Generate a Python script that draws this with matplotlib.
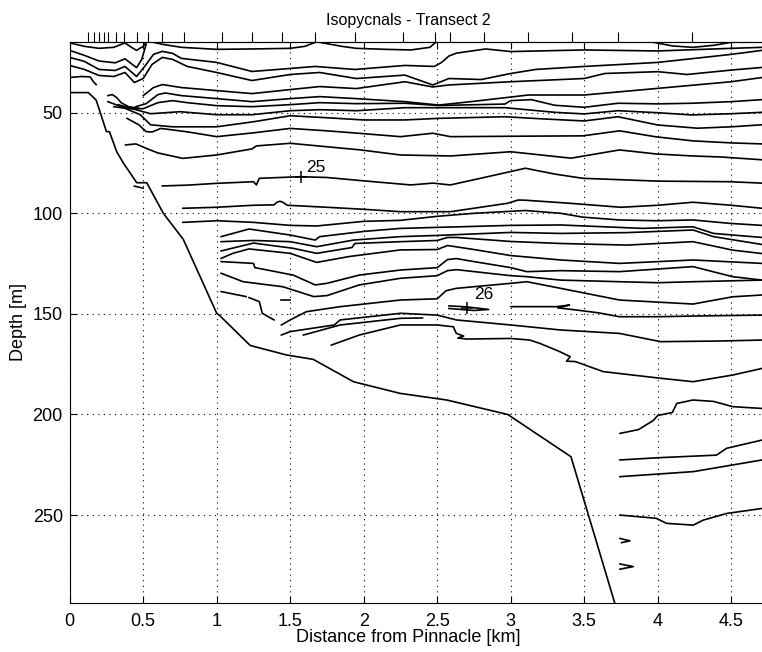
import numpy as np
import matplotlib.pyplot as plt

plt.rcParams['font.family'] = ['Liberation Sans', 'DejaVu Sans']

# CTD station positions (top axis ticks), km
stations_km = [0.127, 0.167, 0.201, 0.235, 0.258, 0.315, 0.372, 0.46, 0.531, 0.63, 0.78,
               1.034, 1.238, 1.442, 1.669, 1.941, 2.27, 2.485, 2.587, 2.815, 3.12, 3.415,
               3.732, 4.231]

# bottom profile
seafloor_km = [0, 0.127, 0.18, 0.25, 0.27, 0.32, 0.365, 0.456, 0.524, 0.637, 0.773, 1.0, 1.02,
               1.228, 1.474, 1.657, 1.93, 2.247, 2.565, 2.98, 3.41, 3.709, 3.72]
seafloor_m = [40, 40, 43.7, 59.4, 59.4, 69.4, 75, 84.8, 84.8, 100, 113, 149.7, 150.8,
              165.7, 170.4, 172.6, 183.7, 189.5, 192.8, 200, 221, 294, 297]

# isopycnal contour pieces (distance km, depth m)
iso01_x = [0, 0.1, 0.2, 0.3, 0.376, 0.42, 0.455, 0.5, 0.52]
iso01_d = [15.3, 17, 18, 17.5, 15.3, 17.5, 19, 17, 15]
iso02_x = [0.57, 0.63, 0.76, 1.0, 1.25, 1.5, 1.6, 1.67]
iso02_d = [15, 16, 17.5, 18.5, 18.3, 18, 17, 15]
iso03_x = [1.7, 1.85, 1.95, 2.15, 2.32, 2.45, 2.49]
iso03_d = [15, 17, 18, 18.5, 18.8, 17.5, 15]
iso04_x = [3.97, 4.1, 4.24, 4.38, 4.5]
iso04_d = [15, 16.8, 17.5, 16.5, 15]
iso05_x = [0, 0.1, 0.2, 0.31, 0.376, 0.455, 0.49, 0.52]
iso05_d = [19, 21.5, 24.3, 25.2, 23.2, 27.6, 23.5, 16]
iso06_x = [0, 0.1, 0.2, 0.31, 0.376, 0.455, 0.51, 0.57, 0.63, 0.7, 0.76, 1.0, 1.24, 1.5, 1.67,
           1.94, 2.28, 2.48, 2.53, 2.58, 2.63, 2.83, 3.0, 3.5, 4.0, 4.5, 4.71]
iso06_d = [22.5, 24.5, 28.5, 29, 27, 32, 27, 21, 19.5, 20.5, 23, 25, 29.5, 28, 27,
           28.5, 26.5, 27, 25, 21.8, 20.4, 18.3, 19.6, 18.8, 19.3, 18, 17.5]
iso07_x = [0, 0.1, 0.2, 0.3, 0.376, 0.44, 0.5, 0.56, 0.63, 0.7, 0.8, 1.0, 1.24, 1.5, 1.7,
           1.95, 2.28, 2.47, 2.58, 2.8, 3.0, 3.17, 3.5, 4.0, 4.5, 4.71]
iso07_d = [26.5, 28.5, 31.5, 32, 30, 35, 33, 26, 22.5, 23.5, 27, 30, 34, 31, 30,
           33, 31.3, 36.2, 33, 33.5, 30.5, 28.5, 27, 25, 21, 19]
iso08_x = [0.5, 0.57, 0.63, 0.76, 1.0, 1.24, 1.5, 1.7, 1.95, 2.28, 2.47, 2.58, 3.0, 3.5, 3.64,
           4.0, 4.2, 4.5, 4.71]
iso08_d = [41.5, 37.5, 36, 37.5, 39, 40.5, 38.5, 37, 38, 34.6, 37.2, 36.2, 34.6, 33, 30.5,
           29.6, 31, 28.8, 27.5]
iso09_x = [0.45, 0.52, 0.6, 0.65, 0.76, 1.0, 1.24, 1.5, 1.7, 1.95, 2.28, 2.51, 2.73, 3.12, 3.5,
           4.0, 4.5, 4.71]
iso09_d = [47, 45.5, 41, 40.2, 41.5, 43, 44.5, 43, 42, 43, 44.5, 46.2, 44.5, 41.2, 41.2,
           37.9, 34.6, 32.5]
iso10_x = [0.3, 0.4, 0.5, 0.6, 0.7, 0.8, 1.0, 1.24, 1.5, 1.7, 1.95, 2.28, 2.51, 2.96, 3.0,
           3.14, 3.3, 3.5, 3.73, 4.0, 4.23, 4.5, 4.71]
iso10_d = [47, 48, 48, 45, 44, 45, 46.5, 47, 46, 45, 45.5, 45.3, 46.4, 45.7, 44,
           43.5, 46.3, 47.3, 45.3, 45.6, 45.3, 44.5, 43.5]
iso11_x = [0.33, 0.45, 0.55, 0.65, 0.75, 1.0, 1.24, 1.5, 1.7, 1.95, 2.28, 2.55, 2.96, 3.3,
           3.5, 3.73, 4.0, 4.23, 4.5, 4.71]
iso11_d = [46, 48.5, 50.5, 50, 49.5, 51, 51, 49, 48.5, 49, 47.5, 47.5, 47.5, 49.8,
           50.6, 49, 50, 51.1, 50.5, 49.8]
iso12_x = [0.26, 0.35, 0.48, 0.55, 0.7, 1.0, 1.25, 1.5, 1.75, 2.0, 2.28, 2.51, 2.96, 3.2,
           3.5, 3.73, 4.0, 4.27, 4.5, 4.71]
iso12_d = [44.5, 47, 51, 56, 57, 57, 54.5, 51.5, 52.5, 53.6, 53.6, 52.8, 52, 53,
           54.1, 52, 56.1, 57.7, 57, 56]
iso13_x = [0.39, 0.47, 0.52, 0.56, 0.62, 0.8, 1.0, 1.25, 1.5, 1.75, 1.98, 2.25, 2.47, 2.59,
           3.0, 3.49, 3.74, 3.99, 4.24, 4.5, 4.71]
iso13_d = [52.8, 56, 59.4, 59.6, 57.8, 59.5, 61.9, 60, 57.8, 59, 60.3, 61.9, 60.2, 61.9,
           61.7, 61.5, 59, 62, 64, 65, 65.5]
iso14_x = [0.38, 0.45, 0.52, 0.6, 0.77, 1.0, 1.24, 1.27, 1.5, 1.98, 2.25, 2.59, 3.0, 3.41,
           3.74, 3.99, 4.24, 4.43, 4.71]
iso14_d = [66, 65.5, 67.7, 70, 72.7, 71, 68, 66.5, 65.2, 68.5, 71, 71.5, 69.4, 72.6,
           68.5, 70.5, 71.5, 72, 73.4]
iso25_x = [0.63, 0.8, 1.0, 1.25, 1.27, 1.29, 1.57, 1.75, 1.93, 2.1, 2.32, 2.47, 2.59, 2.8,
           3.1, 3.3, 3.49, 4.0, 4.49, 4.71]
iso25_d = [86.4, 86, 85.1, 84.3, 85.9, 82.6, 81.8, 82.2, 83.4, 84.5, 85.9, 85, 85.9, 82.5,
           77.6, 80.5, 82.6, 84, 84.3, 85]
iso15_x = [0.44, 0.5]
iso15_d = [86.5, 87.5]
iso16_x = [0.77, 1.0, 1.25, 1.39, 1.41, 1.43, 1.45, 1.48, 1.75, 2.0, 2.25, 2.59, 2.98, 3.05,
           3.1, 3.4, 3.75, 4.0, 4.24, 4.5, 4.71]
iso16_d = [97.5, 97, 96, 95.8, 94.5, 94, 94.5, 96, 97, 98, 99.2, 99.2, 95, 93.4,
           93.5, 95, 97, 96, 94.5, 96, 97.5]
iso17_x = [0.77, 1.0, 1.25, 1.5, 1.68, 2.0, 2.25, 2.5, 2.75, 3.1, 3.34, 3.49, 3.74, 3.99,
           4.24, 4.49, 4.71]
iso17_d = [104.5, 103.7, 104.5, 106, 106.3, 104, 103.5, 101.5, 100, 98.6, 100, 101.9, 103.3,
           103.7, 103.3, 105, 106]
iso18_x = [1.03, 1.22, 1.5, 1.67, 1.7, 2.0, 2.25, 2.5, 3.0, 3.34, 3.9, 4.24, 4.38, 4.71]
iso18_d = [111.6, 107.8, 110.8, 113.3, 111.6, 109, 107.5, 107, 106, 105.8, 107.5, 106.7, 110, 112]
iso19_x = [1.03, 1.25, 1.5, 1.68, 1.93, 2.25, 2.5, 3.0, 3.34, 3.79, 4.24, 4.38, 4.71]
iso19_d = [114.1, 113.5, 114.1, 116.6, 113.3, 111.6, 111, 109.5, 110, 109.6, 108.3, 111.6, 115.5]
iso20_x = [1.03, 1.25, 1.52, 1.68, 1.92, 1.94, 2.25, 2.5, 2.57, 2.63, 3.0, 3.34, 3.79, 4.24,
           4.51, 4.71]
iso20_d = [118.7, 114.8, 117.4, 119.9, 117, 115, 114.1, 113.5, 112, 112, 114, 115, 115.8, 114.1,
           118.3, 120]
iso21_x = [1.03, 1.11, 1.22, 1.5, 1.68, 1.9, 2.25, 2.5, 2.57, 2.75, 3.0, 3.34, 3.74, 4.24, 4.71]
iso21_d = [122.4, 119.9, 117.7, 119.9, 124.4, 121.5, 118.2, 118, 116, 118, 121, 123.2, 124.9,
           123.2, 124.9]
iso22_x = [1.03, 1.25, 1.26, 1.52, 1.67, 1.75, 1.97, 2.25, 2.5, 2.57, 2.63, 2.75, 3.0, 3.11,
           3.34, 3.74, 4.24, 4.51, 4.71]
iso22_d = [124, 124.9, 127, 130.7, 135.6, 134.8, 130.7, 128.2, 127, 123, 122.5, 124, 127, 129,
           128.5, 129, 126.5, 131.5, 133.2]
iso23_x = [1.03, 1.18, 1.45, 1.66, 1.75, 1.97, 2.25, 2.5, 2.57, 2.63, 3.0, 3.11, 3.34, 3.74,
           4.0, 4.24, 4.71]
iso23_d = [129.8, 134, 136.5, 141.4, 140.9, 135.6, 132.3, 131, 128.5, 128, 131, 131.5, 133.2,
           134, 134.5, 134, 133.2]
iso24_x = [1.03, 1.2]
iso24_d = [138.9, 141.4]
iso24b_x = [1.22, 1.29, 1.31, 1.39]
iso24b_d = [141.9, 143.9, 149.7, 153]
iso26_x = [1.44, 1.5]
iso26_d = [143.1, 143.1]
iso27_x = [1.44, 1.5, 1.61, 1.84, 2.25, 2.5, 2.56, 2.63, 3.0, 3.11, 3.34, 3.74, 4.24, 4.51, 4.71]
iso27_d = [155.5, 153, 148.9, 146.4, 143.1, 142.5, 138.5, 137.3, 134.8, 134, 137.3, 143.1,
           145.1, 141.5, 140.6]
iso28_x = [2.58, 2.7, 2.85, 2.75, 2.58]
iso28_d = [146, 146.5, 147.8, 148.3, 147.3]
iso29_x = [3.0, 3.2, 3.31, 3.4, 3.32, 3.44, 3.6, 3.74, 4.0, 4.3, 4.71]
iso29_d = [146.4, 146.4, 146.4, 145.6, 147, 148, 149.5, 151.4, 151.4, 151, 150.6]
iso30_x = [1.44, 1.5, 1.8, 1.84, 2.25, 2.5, 2.63, 3.0, 3.34, 3.74, 4.02, 4.4, 4.71]
iso30_d = [160.5, 158.8, 155.5, 153, 149.7, 150.6, 153, 155.5, 158, 159.7, 163.8, 163.5, 163]
iso31_x = [1.59, 1.84, 2.25, 2.4]
iso31_d = [160.5, 155.5, 152.2, 152]
iso32_x = [1.78, 1.97, 2.25, 2.5, 2.61, 2.63, 2.68, 2.64, 2.7, 3.0, 3.13, 3.2, 3.335,
           3.405, 3.38, 3.44, 3.63, 4.02, 4.24, 4.51, 4.71]
iso32_d = [165.5, 160.5, 155.5, 155.5, 156.4, 159.7, 161, 162, 162.5, 162.2, 163, 164.7,
           168.8, 171.3, 173.5, 173.7, 178.7, 182, 183.7, 180.4, 177.1]
iso33_x = [3.743, 3.87, 3.925, 3.97, 4.0, 4.1, 4.13, 4.24, 4.38, 4.51, 4.71]
iso33_d = [209.4, 207.5, 205, 203, 200.5, 199, 194.5, 192.8, 193.5, 196.1, 197]
iso34_x = [3.743, 4.0, 4.4, 4.469, 4.71]
iso34_d = [222.6, 221.5, 220.2, 216.8, 212.7]
iso35_x = [3.743, 4.242, 4.71]
iso35_d = [230.9, 228.4, 222.6]
iso36_x = [3.743, 3.99, 4.06, 4.242, 4.31, 4.469, 4.71]
iso36_d = [250, 251.6, 254.1, 255, 252.5, 249.2, 246.7]
iso37_x = [3.743, 3.811, 3.754]
iso37_d = [261.6, 262.8, 263.7]
iso38_x = [3.743, 3.834, 3.743]
iso38_d = [274.3, 275.6, 276.9]
iso39_x = [0, 0.08, 0.14, 0.16, 0.18]
iso39_d = [32.5, 32, 32.2, 34.5, 36]
iso41_x = [0.26, 0.29, 0.32, 0.35, 0.4, 0.47]
iso41_d = [41.5, 41, 42.5, 45, 47, 47.8]

# contour labels
label_text = ['25', '26']
label_km = [1.61, 2.75]
label_m = [77.2, 140.3]
cross_km = [1.571, 2.702]
cross_m = [81.8, 147.3]

xticks = [0, 0.5, 1, 1.5, 2, 2.5, 3, 3.5, 4, 4.5]
xticklabels = ['0', '0.5', '1', '1.5', '2', '2.5', '3', '3.5', '4', '4.5']
yticks = [50, 100, 150, 200, 250]

pieces = [(iso01_x, iso01_d), (iso02_x, iso02_d), (iso03_x, iso03_d), (iso04_x, iso04_d),
          (iso05_x, iso05_d), (iso06_x, iso06_d), (iso07_x, iso07_d), (iso08_x, iso08_d),
          (iso09_x, iso09_d), (iso10_x, iso10_d), (iso11_x, iso11_d), (iso12_x, iso12_d),
          (iso13_x, iso13_d), (iso14_x, iso14_d), (iso25_x, iso25_d), (iso15_x, iso15_d),
          (iso16_x, iso16_d), (iso17_x, iso17_d), (iso18_x, iso18_d), (iso19_x, iso19_d),
          (iso20_x, iso20_d), (iso21_x, iso21_d), (iso22_x, iso22_d), (iso23_x, iso23_d),
          (iso24_x, iso24_d), (iso24b_x, iso24b_d), (iso26_x, iso26_d), (iso27_x, iso27_d),
          (iso28_x, iso28_d), (iso29_x, iso29_d), (iso30_x, iso30_d), (iso31_x, iso31_d),
          (iso32_x, iso32_d), (iso33_x, iso33_d), (iso34_x, iso34_d), (iso35_x, iso35_d),
          (iso36_x, iso36_d), (iso37_x, iso37_d), (iso38_x, iso38_d), (iso39_x, iso39_d),
          (iso41_x, iso41_d)]

fig = plt.figure(figsize=(7.62, 6.52), dpi=100)
ax = fig.add_axes([69.7/762, 49/652, 1 - 69.7/762, (603-41.7)/652])

for px, pd_ in pieces:
    ax.plot(px, pd_, color='k', lw=1.2)
ax.plot(seafloor_km, seafloor_m, color='k', lw=1.2)

ax.plot(cross_km, cross_m, 'k+', ms=9, mew=1.1, ls='none')
for t, x, y in zip(label_text, label_km, label_m):
    ax.text(x, y, t, fontsize=12.5, ha='left', va='center')

ax.set_xlim(0, (762-69.7)/147)
ax.set_ylim(293.7, 14.7)
ax.set_xticks(xticks)
ax.set_xticklabels(xticklabels)
ax.set_yticks(yticks)
ax.tick_params(direction='in', length=5, top=True, right=False, labelsize=13)
ax.tick_params(axis='x', pad=7)
ax.tick_params(axis='y', pad=5)
ax.spines['right'].set_visible(False)
ax.grid(True, color='k', linestyle=(0, (1, 4)), linewidth=0.8)

top = ax.secondary_xaxis('top')
top.set_xticks(stations_km)
top.set_xticklabels([])
top.tick_params(direction='out', length=7, width=0.8)

ax.set_xlabel('Distance from Pinnacle [km]', fontsize=13)
ax.xaxis.set_label_coords(0.4887, -0.046)
ax.set_ylabel('Depth [m]', fontsize=13)
ax.yaxis.set_label_coords(-0.062, 0.5)
fig.text(408/762, 1 - 20/652, 'Isopycnals - Transect 2', fontsize=11.5, ha='center', va='center')

fig.savefig('out.png', dpi=100)
